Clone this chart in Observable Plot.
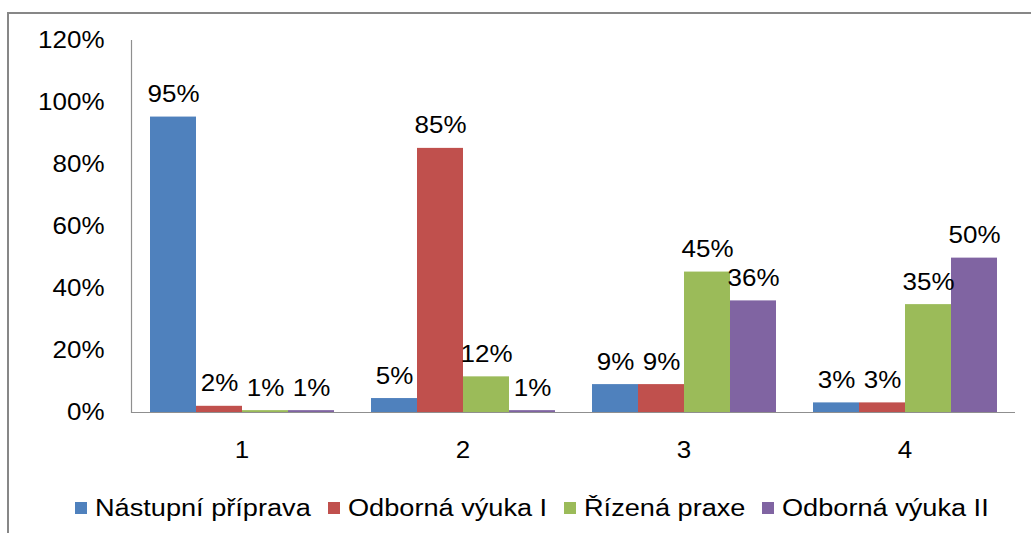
<!DOCTYPE html>
<html><head><meta charset="utf-8">
<script src="https://cdn.jsdelivr.net/npm/d3@7"></script>
<script src="https://cdn.jsdelivr.net/npm/@observablehq/plot@0.6"></script>
<style>
html,body{margin:0;padding:0;background:#fff;width:1031px;height:533px;overflow:hidden;font-family:"Liberation Sans",Arial,sans-serif}
#border{position:absolute;left:7px;top:12px;width:1200px;height:800px;border-top:2px solid #878787;border-left:2px solid #878787}
#chart{position:absolute;left:0;top:0}
#legend{position:absolute;left:75px;top:495px;display:flex;align-items:center;font-size:23px;line-height:26px;color:#000;white-space:nowrap}
.item{display:flex;align-items:center;margin-right:17px}
.sw{width:12px;height:12px;margin-right:8px}
.lt{display:inline-block;transform-origin:0 50%}
</style></head><body>
<div id="border"></div><div id="chart"></div><div id="legend"></div>
<script>
const groups = ["1", "2", "3", "4"];
const series = ["Nástupní příprava", "Odborná výuka I", "Řízená praxe", "Odborná výuka II"];
const colors = ["#4F81BD", "#C0504D", "#9BBB59", "#8064A2"];
const nastupniPriprava = [95.3, 4.5, 9, 3.1];
const odbornaVyukaI = [2, 85.2, 9, 3.1];
const rizenaPraxe = [0.6, 11.5, 45.3, 34.8];
const odbornaVyukaII = [0.6, 0.6, 36, 49.8];
const yTicks = [0, 20, 40, 60, 80, 100, 120];

const seriesValues = [nastupniPriprava, odbornaVyukaI, rizenaPraxe, odbornaVyukaII];
const data = [];
series.forEach((s, i) => groups.forEach((g, j) => data.push({group: g, series: s, value: seriesValues[i][j]})));

const axisColor = "#8f8f8f";
const plot = Plot.plot({
  width: 1031, height: 470,
  marginLeft: 130, marginRight: 16, marginTop: 40, marginBottom: 58,
  style: {fontFamily: "'Liberation Sans', Arial, sans-serif", fontSize: "23px", color: "#000", background: "transparent", overflow: "visible"},
  fx: {domain: groups, padding: 0, label: null},
  x: {domain: series, paddingInner: 0, paddingOuter: 0.364, axis: null},
  y: {domain: [0, 120], label: null},
  color: {domain: series, range: colors},
  marks: [
    Plot.barY(data, {fx: "group", x: "series", y: "value", fill: "series"}),
    Plot.text(data, {fx: "group", x: "series", y: "value", text: d => Math.round(d.value) + "%", lineAnchor: "bottom", dy: -15, fill: "#000"}),
    Plot.ruleY([0], {stroke: axisColor, strokeWidth: 1.2}),
    Plot.frame({anchor: "left", stroke: axisColor, strokeWidth: 1.2, fx: ["1"]}),
    Plot.axisY(yTicks, {tickSize: 0, tickPadding: 27, tickFormat: d => d + "%", label: null}),
    Plot.axisFx({anchor: "bottom", tickSize: 0, tickPadding: 29, label: null})
  ]
});
document.getElementById("chart").append(plot);

// horizontally widen text like the original rendering
const K = 1.13;
plot.querySelectorAll("text").forEach(t => {
  const r = t.getBoundingClientRect();
  const a = getComputedStyle(t).textAnchor;
  const px = a === "end" ? r.right : a === "middle" ? (r.left + r.right) / 2 : r.left;
  const ctm = t.parentNode.getScreenCTM();
  const p = (px - ctm.e) / ctm.a;
  const old = t.getAttribute("transform") || "";
  t.setAttribute("transform", `translate(${p},0) scale(${K},1) translate(${-p},0) ${old}`);
});

const legend = d3.select("#legend");
series.forEach((s, i) => {
  const it = legend.append("div").attr("class", "item");
  it.append("div").attr("class", "sw").style("background", colors[i]);
  it.append("span").attr("class", "lt").text(s);
});
const KL = 1.18;
document.querySelectorAll(".lt").forEach(el => {
  const w = el.getBoundingClientRect().width;
  el.style.transform = `scaleX(${KL})`;
  el.style.marginRight = (w * (KL - 1)) + "px";
});
</script>
</body></html>
